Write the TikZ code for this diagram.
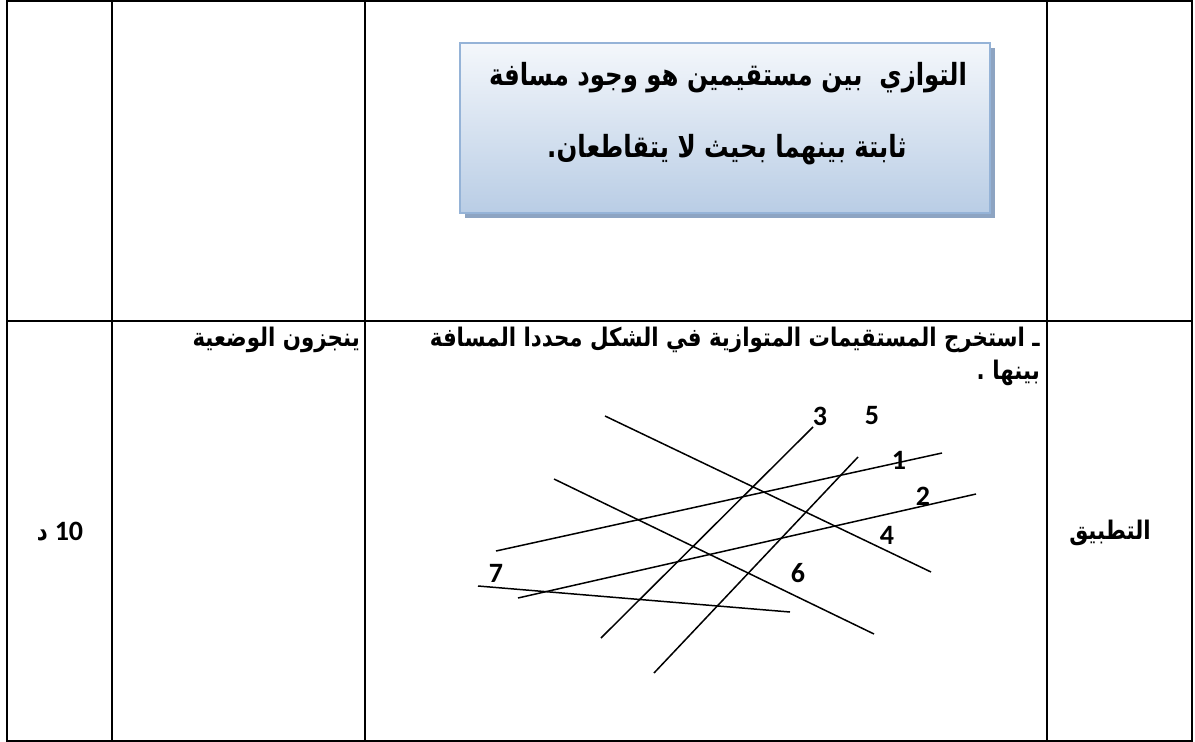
\documentclass[tikz,border=0pt]{standalone}
\usepackage{fontspec}
\newfontfamily\arabicfont[Script=Arabic]{DejaVu Sans}
\newfontfamily\digitfont{Carlito}
\TeXXeTstate=1
\definecolor{boxtop}{HTML}{F4F7FB}
\definecolor{boxbot}{HTML}{B9CDE5}
\definecolor{boxline}{HTML}{95B3D7}
\definecolor{boxshadow}{HTML}{8DA4C2}
\newcommand{\arb}{\arabicfont\bfseries}
\newsavebox\qbox
\newsavebox\tbox
\begin{document}
\sbox\qbox{\arb\fontsize{28}{32}\selectfont\beginR ـ استخرج المستقيمات المتوازية في الشكل محددا المسافة\endR}%
\pgfmathsetmacro\rowsize{610/\wd\qbox*28*1.2}%
\sbox\tbox{\arb\fontsize{36}{40}\selectfont\beginR التوازي~~بين مستقيمين هو وجود مسافة\endR}%
\pgfmathsetmacro\boxsize{478/\wd\tbox*36*1.25}%
\begin{tikzpicture}[x=1pt,y=-1pt,
  tbl/.style={line width=1.6pt},
  figline/.style={line width=1.5pt},
  num/.style={font=\digitfont\bfseries\fontsize{28}{30}\selectfont, inner sep=0pt},
  rowtxt/.style={font=\arb\fontsize{\rowsize}{\rowsize}\selectfont, inner sep=0pt},
  boxtxt/.style={font=\arb\fontsize{\boxsize}{\boxsize}\selectfont, inner sep=0pt}]
\useasboundingbox (0,0) rectangle (1195,742);
% table
\draw[tbl] (7,1) rectangle (1192,741);
\draw[tbl] (112,1) -- (112,741);
\draw[tbl] (365,1) -- (365,741);
\draw[tbl] (1047,1) -- (1047,741);
\draw[tbl] (7,321) -- (1192,321);
% definition box
\fill[boxshadow] (465,48) rectangle (995,218);
\shade[top color=boxtop, bottom color=boxbot] (460,43) rectangle (990,213);
\draw[boxline, line width=2pt] (460,43) rectangle (990,213);
\node[boxtxt, anchor=base] (t1) at (728,85) {\scalebox{0.8}[1]{\beginR التوازي~~بين مستقيمين هو وجود مسافة\endR}};
\node[boxtxt, anchor=base] (t2) at (727,157) {\scalebox{0.8}[1]{\beginR ثابتة بينهما بحيث لا يتقاطعان.\endR}};
% row 2 texts
\node[rowtxt, anchor=base east] (q1) at (1040,346) {\scalebox{0.8333}[1]{\beginR ـ استخرج المستقيمات المتوازية في الشكل محددا المسافة\endR}};
\node[rowtxt, anchor=base east] (q2) at (1040,379) {\scalebox{0.8333}[1]{\beginR بينها .\endR}};
\node[rowtxt, anchor=base east] (task) at (360,346) {\scalebox{0.8333}[1]{\beginR ينجزون الوضعية\endR}};
\node[rowtxt] (app) at (1110,533) {\scalebox{0.8333}[1]{\beginR التطبيق\endR}};
\node[inner sep=0pt] (time) at (60,532) {{\arb\fontsize{\rowsize}{\rowsize}\selectfont\scalebox{0.8333}[1]{د}}\hspace{7pt}{\digitfont\bfseries\fontsize{28}{30}\selectfont 10}};
% figure lines
\coordinate (A1) at (605,416); \coordinate (A2) at (931,572);
\coordinate (B1) at (554,479); \coordinate (B2) at (874,634);
\coordinate (L1a) at (496,551); \coordinate (L1b) at (942,453);
\coordinate (L2a) at (518,598); \coordinate (L2b) at (976,494);
\coordinate (L3a) at (601,638); \coordinate (L3b) at (813,427);
\coordinate (L5a) at (654,673); \coordinate (L5b) at (858,457);
\coordinate (L7a) at (478,586); \coordinate (L7b) at (790,612);
\draw[figline] (A1) -- (A2);
\draw[figline] (B1) -- (B2);
\draw[figline] (L1a) -- (L1b);
\draw[figline] (L2a) -- (L2b);
\draw[figline] (L3a) -- (L3b);
\draw[figline] (L5a) -- (L5b);
\draw[figline] (L7a) -- (L7b);
% labels
\node[num] (n3) at (820,416) {3};
\node[num] (n5) at (872,416) {5};
\node[num] (n1) at (899,460) {1};
\node[num] (n2) at (923,496) {2};
\node[num] (n4) at (887,535) {4};
\node[num] (n6) at (798,573) {6};
\node[num] (n7) at (496,573) {7};
\end{tikzpicture}
\end{document}
